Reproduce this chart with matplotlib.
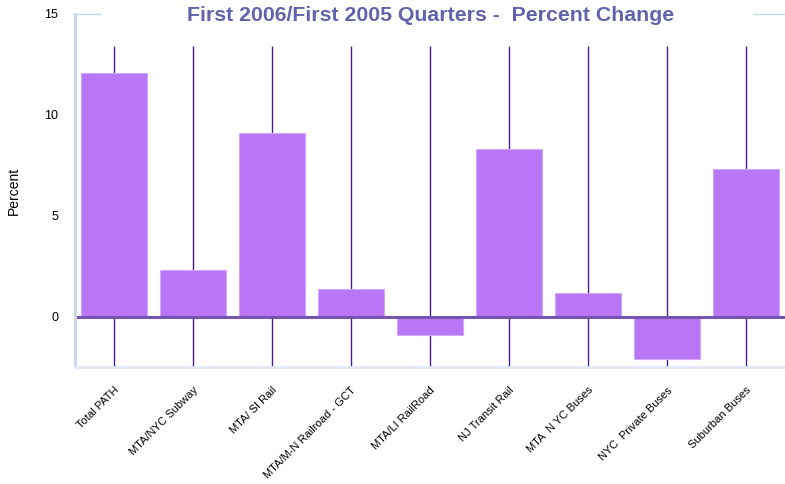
import matplotlib.pyplot as plt
import numpy as np

plt.rcParams['font.family'] = ['Liberation Sans', 'DejaVu Sans']

categories = ['Total PATH', 'MTA/NYC Subway', 'MTA/ SI Rail', 'MTA/M-N Railroad - GCT',
              'MTA/LI RailRoad', 'NJ Transit Rail', 'MTA  N YC Buses',
              'NYC  Private Buses', 'Suburban Buses']
pct_change = [12.1, 2.3, 9.1, 1.4, -0.9, 8.3, 1.2, -2.1, 7.3]
yticks = [0, 5, 10, 15]

fig = plt.figure(figsize=(7.85, 4.84), dpi=100)
ax = fig.add_axes([75 / 785, 1 - 367 / 484, 710 / 785, 353 / 484])

x = np.arange(len(categories))

# vertical guide lines behind bars
ax.vlines(x, -2.48, 13.4, color='#4a1a9a', lw=1, zorder=1)
ax.bar(x, pct_change, width=0.835, color='#b875f5', edgecolor='#d2a8ff',
       linewidth=0.8, zorder=2)
ax.axhline(0, xmin=0.004, color='#7555b0', lw=2.2, zorder=3)

ax.set_xlim(-0.494, 8.494)
ax.set_ylim(-2.48, 15)
ax.set_yticks(yticks)
ax.set_yticklabels([str(t) for t in yticks], fontsize=9)
ax.tick_params(axis='y', length=0, pad=12)
ax.tick_params(axis='x', length=0, pad=13)
ax.set_xticks(x)
ax.set_xticklabels(categories, rotation=45, ha='right', va='top',
                   rotation_mode='anchor', fontsize=8)

for s in ['top', 'right']:
    ax.spines[s].set_visible(False)
ax.spines['left'].set_color('#c4d8ea')
ax.spines['left'].set_linewidth(2)
ax.spines['bottom'].set_color('#e2e8f6')
ax.spines['bottom'].set_linewidth(2)

# short marks at top
ax.plot([-0.494, -0.18], [15, 15], color='#c4d8ea', lw=1, clip_on=False)
ax.plot([8.1, 8.494], [15, 15], color='#c4d8ea', lw=1, clip_on=False)

ax.set_ylabel('Percent', fontsize=10, labelpad=17)
fig.text(0.548, 0.969, 'First 2006/First 2005 Quarters -  Percent Change',
         ha='center', va='center', fontsize=15.3, fontweight='bold',
         color='#6262ac')

fig.savefig('out.png', dpi=100)
